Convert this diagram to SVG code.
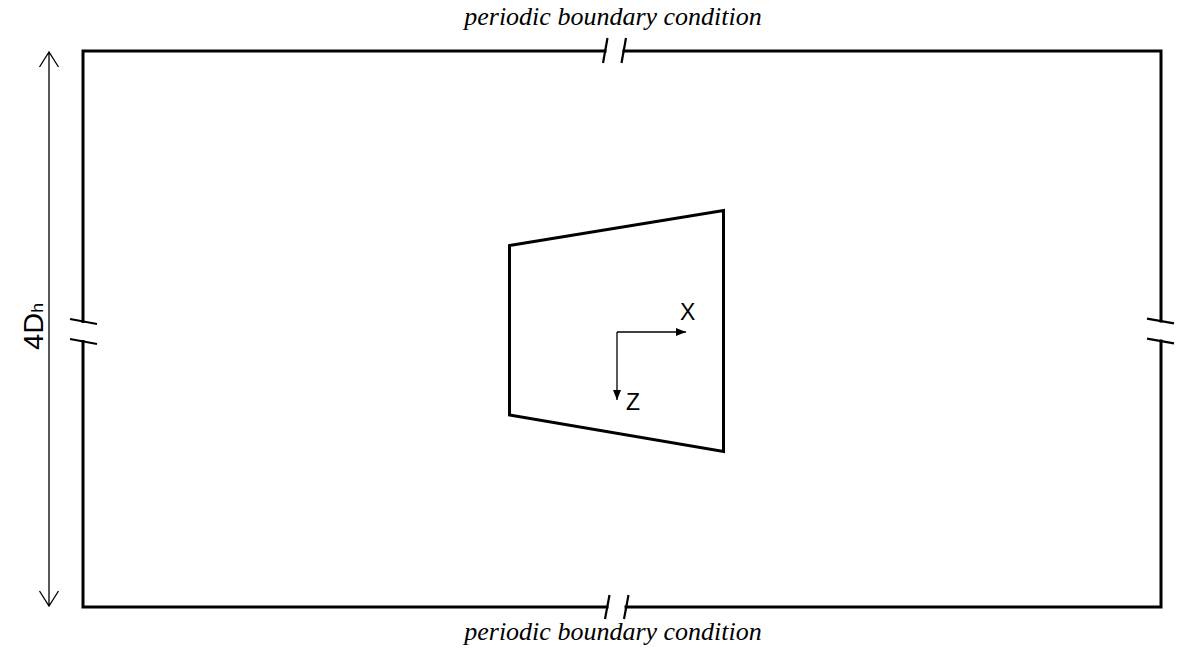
<svg xmlns="http://www.w3.org/2000/svg" width="1180" height="652" viewBox="0 0 1180 652">
<style>
.frame{fill:none;stroke:#000;stroke-width:3;stroke-linecap:square}
.tick{fill:none;stroke:#000;stroke-width:2.2}
.thin{fill:none;stroke:#000;stroke-width:1.3}
.lbl{font-family:"Liberation Serif","Times New Roman",serif;font-style:italic;font-size:26px;fill:#000}
.ax{font-family:"Liberation Sans",Arial,sans-serif;font-size:23px;fill:#000}
</style>
<defs>
<marker id="tri" viewBox="0 0 10 8" refX="10" refY="4" markerWidth="10" markerHeight="8" markerUnits="userSpaceOnUse" orient="auto">
<path d="M0,0 L10,4 L0,8 Z" fill="#000"/>
</marker>
</defs>
<rect width="1180" height="652" fill="#fff"/>
<g id="domain">
<path class="frame" d="M605,51 H83 V321.5 M83,341.5 V607 H607 M626,607 H1161 V341 M1161,321 V51 H624"/>
</g>
<g id="breaks">
<line class="tick" x1="603" y1="63" x2="607.5" y2="38"/>
<line class="tick" x1="621.5" y1="63" x2="626" y2="38"/>
<line class="tick" x1="605" y1="619" x2="609.5" y2="595"/>
<line class="tick" x1="624" y1="619" x2="628.5" y2="595"/>
<line class="tick" x1="70" y1="319" x2="97" y2="324"/>
<line class="tick" x1="70" y1="339" x2="97" y2="344"/>
<line class="tick" x1="1147" y1="318.7" x2="1174" y2="323.3"/>
<line class="tick" x1="1147" y1="338.7" x2="1174" y2="343.3"/>
</g>
<g id="body">
<polygon points="509.5,245.5 723.5,210.5 723.5,451.5 509.5,415" fill="none" stroke="#000" stroke-width="3" stroke-linejoin="miter"/>
</g>
<g id="connectors">
<path class="thin" d="M49,52 V606 M39.5,67 L49,52 L58.5,67 M39.5,591 L49,606 L58.5,591"/>
<line class="thin" x1="617" y1="332" x2="686" y2="332" marker-end="url(#tri)"/>
<line class="thin" x1="617" y1="332" x2="617" y2="400" marker-end="url(#tri)"/>
</g>
<g id="labels">
<text class="lbl" x="613" y="25" text-anchor="middle">periodic boundary condition</text>
<text class="lbl" x="613" y="640" text-anchor="middle">periodic boundary condition</text>
<text class="ax" x="680" y="320">X</text>
<text class="ax" x="626" y="410">Z</text>
<text transform="translate(43,350) rotate(-90)" font-family="Liberation Sans,Arial,sans-serif" font-size="28" textLength="47" lengthAdjust="spacingAndGlyphs">4D<tspan font-size="17">h</tspan></text>
</g>
</svg>
